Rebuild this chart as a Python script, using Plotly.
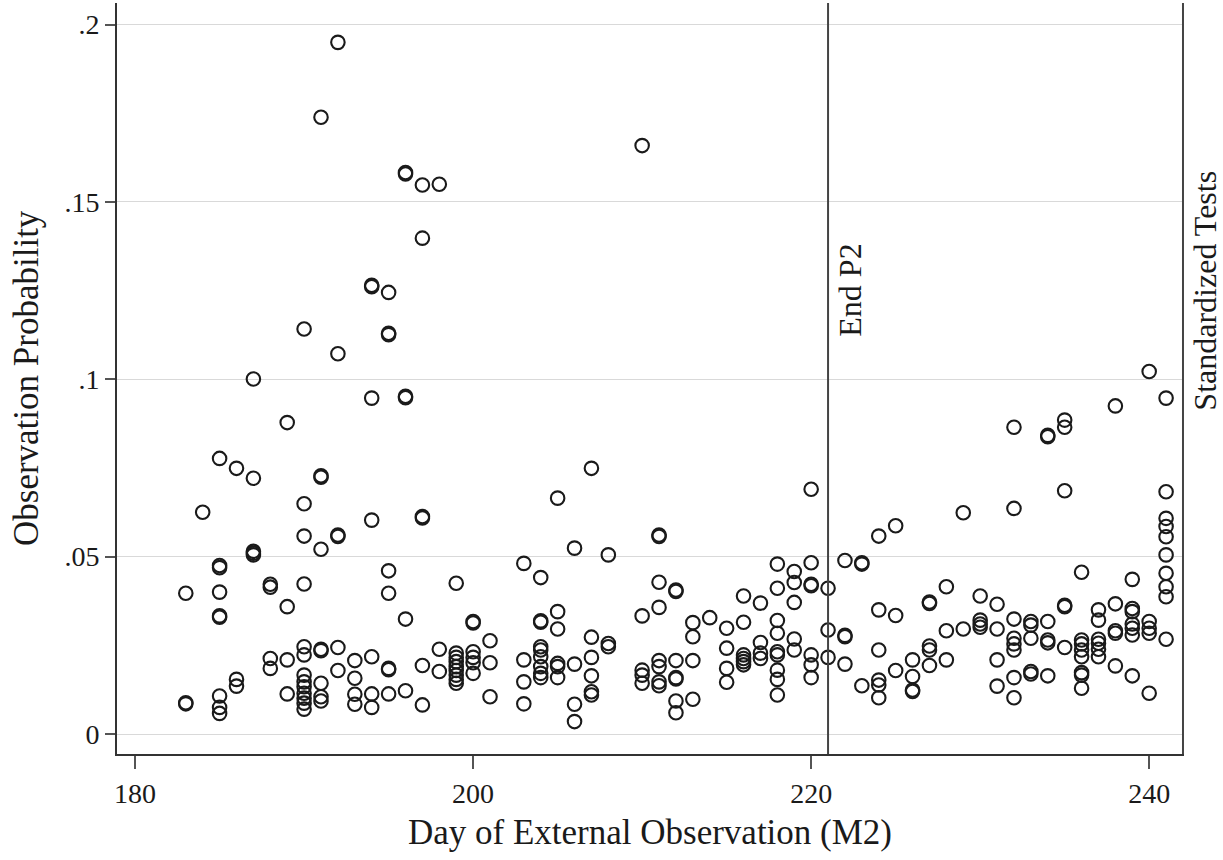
import plotly.graph_objects as go

# ---- data ----
obs_day = (
    [183] * 3 + [184] * 1 + [185] * 9 + [186] * 3 + [187] * 5 + [188] * 4 + [189] * 4 +
    [190] * 13 + [191] * 9 + [192] * 6 + [193] * 4 + [194] * 7 + [195] * 8 + [196] * 6 +
    [197] * 6 + [198] * 3 + [199] * 9 + [200] * 6 + [201] * 3 + [203] * 4 + [204] * 9 +
    [205] * 6 + [206] * 4 + [207] * 6 + [208] * 3 + [210] * 5 + [211] * 8 + [212] * 7 +
    [213] * 4 + [214] * 1 + [215] * 4 + [216] * 6 + [217] * 4 + [218] * 9 + [219] * 5 +
    [220] * 7 + [221] * 3 + [222] * 4 + [223] * 3 + [224] * 6 + [225] * 3 + [226] * 4 +
    [227] * 5 + [228] * 3 + [229] * 2 + [230] * 4 + [231] * 4 + [232] * 8 + [233] * 5 +
    [234] * 6 + [235] * 6 + [236] * 8 + [237] * 6 + [238] * 5 + [239] * 7 + [240] * 5 +
    [241] * 10
)

obs_prob = [
    0.0397, 0.0085, 0.0088,                                             # 183
    0.0625,                                                             # 184
    0.0777, 0.0475, 0.0469, 0.0400, 0.0333, 0.0329, 0.0107, 0.0075, 0.0058,  # 185
    0.0749, 0.0154, 0.0135,                                             # 186
    0.1001, 0.0721, 0.0515, 0.0510, 0.0505,                             # 187
    0.0422, 0.0414, 0.0213, 0.0185,                                     # 188
    0.0878, 0.0359, 0.0209, 0.0113,                                     # 189
    0.1142, 0.0649, 0.0558, 0.0423, 0.0246, 0.0223, 0.0166, 0.0147,
    0.0133, 0.0115, 0.0101, 0.0087, 0.0070,                             # 190
    0.1739, 0.0728, 0.0724, 0.0521, 0.0239, 0.0235, 0.0143, 0.0105, 0.0093,  # 191
    0.1950, 0.1072, 0.0561, 0.0557, 0.0244, 0.0179,                     # 192
    0.0207, 0.0157, 0.0112, 0.0084,                                     # 193
    0.1265, 0.1261, 0.0947, 0.0603, 0.0218, 0.0113, 0.0075,             # 194
    0.1245, 0.1130, 0.1126, 0.0460, 0.0397, 0.0185, 0.0181, 0.0113,     # 195
    0.1583, 0.1579, 0.0952, 0.0948, 0.0324, 0.0122,                     # 196
    0.1548, 0.1398, 0.0613, 0.0609, 0.0193, 0.0082,                     # 197
    0.1550, 0.0239, 0.0176,                                             # 198
    0.0425, 0.0228, 0.0216, 0.0204, 0.0190, 0.0179, 0.0166, 0.0154, 0.0143,  # 199
    0.0317, 0.0313, 0.0232, 0.0216, 0.0201, 0.0171,                     # 200
    0.0263, 0.0201, 0.0105,                                             # 201
    0.0481, 0.0209, 0.0147, 0.0085,                                     # 203
    0.0441, 0.0319, 0.0315, 0.0246, 0.0237, 0.0218, 0.0190, 0.0171, 0.0159,  # 204
    0.0665, 0.0345, 0.0296, 0.0199, 0.0190, 0.0159,                     # 205
    0.0524, 0.0197, 0.0084, 0.0035,                                     # 206
    0.0749, 0.0273, 0.0216, 0.0164, 0.0119, 0.0110,                     # 207
    0.0505, 0.0255, 0.0246,                                             # 208
    0.1659, 0.0333, 0.0180, 0.0166, 0.0143,                             # 210
    0.0561, 0.0557, 0.0428, 0.0357, 0.0207, 0.0190, 0.0147, 0.0136,     # 211
    0.0406, 0.0402, 0.0207, 0.0159, 0.0155, 0.0093, 0.0060,             # 212
    0.0314, 0.0274, 0.0207, 0.0098,                                     # 213
    0.0328,                                                             # 214
    0.0298, 0.0242, 0.0185, 0.0146,                                     # 215
    0.0389, 0.0315, 0.0223, 0.0213, 0.0204, 0.0195,                     # 216
    0.0369, 0.0258, 0.0228, 0.0213,                                     # 217
    0.0479, 0.0411, 0.0320, 0.0284, 0.0232, 0.0223, 0.0180, 0.0154, 0.0110,  # 218
    0.0458, 0.0427, 0.0371, 0.0268, 0.0237,                             # 219
    0.0690, 0.0483, 0.0422, 0.0418, 0.0223, 0.0195, 0.0159,             # 220
    0.0411, 0.0293, 0.0216,                                             # 221
    0.0489, 0.0278, 0.0274, 0.0197,                                     # 222
    0.0483, 0.0479, 0.0136,                                             # 223
    0.0558, 0.0350, 0.0237, 0.0152, 0.0138, 0.0102,                     # 224
    0.0587, 0.0334, 0.0179,                                             # 225
    0.0209, 0.0162, 0.0124, 0.0120,                                     # 226
    0.0372, 0.0368, 0.0248, 0.0237, 0.0193,                             # 227
    0.0415, 0.0291, 0.0209,                                             # 228
    0.0624, 0.0296,                                                     # 229
    0.0389, 0.0321, 0.0310, 0.0301,                                     # 230
    0.0366, 0.0296, 0.0209, 0.0135,                                     # 231
    0.0865, 0.0636, 0.0324, 0.0270, 0.0254, 0.0237, 0.0159, 0.0102,     # 232
    0.0317, 0.0307, 0.0270, 0.0176, 0.0169,                             # 233
    0.0842, 0.0838, 0.0317, 0.0265, 0.0257, 0.0164,                     # 234
    0.0885, 0.0865, 0.0686, 0.0363, 0.0359, 0.0244,                     # 235
    0.0456, 0.0265, 0.0254, 0.0237, 0.0218, 0.0173, 0.0166, 0.0129,     # 236
    0.0350, 0.0321, 0.0267, 0.0256, 0.0239, 0.0218,                     # 237
    0.0925, 0.0367, 0.0291, 0.0284, 0.0192,                             # 238
    0.0436, 0.0354, 0.0345, 0.0310, 0.0298, 0.0279, 0.0164,             # 239
    0.1022, 0.0317, 0.0298, 0.0284, 0.0115,                             # 240
    0.0947, 0.0683, 0.0608, 0.0585, 0.0556, 0.0505, 0.0453, 0.0415, 0.0387, 0.0267,  # 241
]

x_tick_vals = [180, 200, 220, 240]
y_tick_vals = [0, 0.05, 0.1, 0.15, 0.2]
y_tick_text = ["0", ".05", ".1", ".15", ".2"]

event_days = [221, 242]
event_labels = ["End P2", "Standardized Tests"]
label_y = 0.125

x_title = "Day of External Observation (M2)"
y_title = "Observation Probability"

# ---- figure ----
FONT = "Liberation Serif"
INK = "#1a1a1a"
W, H = 1223, 860
ML, MR, MT, MB = 117, 39, 3, 106
PW, PH = W - ML - MR, H - MT - MB


def paper_x(px):
    return (px - ML) / PW


def paper_y(py):
    return (H - MB - py) / PH


fig = go.Figure()
fig.add_trace(go.Scatter(
    x=obs_day, y=obs_prob, mode="markers",
    marker=dict(symbol="circle-open", size=13.5, color=INK, line=dict(width=2.1, color=INK)),
    showlegend=False, hoverinfo="x+y",
))

for d in event_days:
    fig.add_shape(type="line", xref="x", yref="paper", x0=d, x1=d, y0=0, y1=1,
                  line=dict(color="#444444", width=2))

for d, lab in zip(event_days, event_labels):
    fig.add_annotation(x=d, y=label_y, xref="x", yref="y", text=lab, textangle=-90,
                       showarrow=False, xanchor="left", yanchor="middle", xshift=2,
                       font=dict(family=FONT, size=32, color=INK))

# axis titles placed as annotations
fig.add_annotation(x=paper_x(650), y=paper_y(832), xref="paper", yref="paper",
                   xanchor="center", yanchor="middle", showarrow=False, text=x_title,
                   font=dict(family=FONT, size=35, color=INK))
fig.add_annotation(x=paper_x(27), y=paper_y(378), xref="paper", yref="paper",
                   xanchor="center", yanchor="middle", showarrow=False, text=y_title,
                   textangle=-90, font=dict(family=FONT, size=35, color=INK))

fig.update_layout(
    width=W, height=H,
    margin=dict(l=ML, r=MR, t=MT, b=MB, autoexpand=False),
    paper_bgcolor="white", plot_bgcolor="white",
    font=dict(family=FONT, color=INK),
)

fig.update_xaxes(
    range=[178.93, 242.06], tickvals=x_tick_vals, automargin=False,
    showgrid=False, zeroline=False,
    showline=True, linecolor="#333333", linewidth=2,
    ticks="outside", ticklen=13, tickwidth=2, tickcolor="#555555",
    tickfont=dict(family=FONT, size=28, color=INK),
)
fig.update_yaxes(
    range=[-0.00564, 0.2061], tickvals=y_tick_vals, ticktext=y_tick_text, automargin=False,
    showgrid=True, gridcolor="#d9d9d9", gridwidth=1, zeroline=False,
    showline=True, linecolor="#333333", linewidth=2,
    ticks="outside", ticklen=10, tickwidth=2, tickcolor="#555555",
    tickfont=dict(family=FONT, size=28, color=INK),
)

fig.write_html("out.html", config={"displayModeBar": False},
               post_script="document.body.style.margin='0px';")
